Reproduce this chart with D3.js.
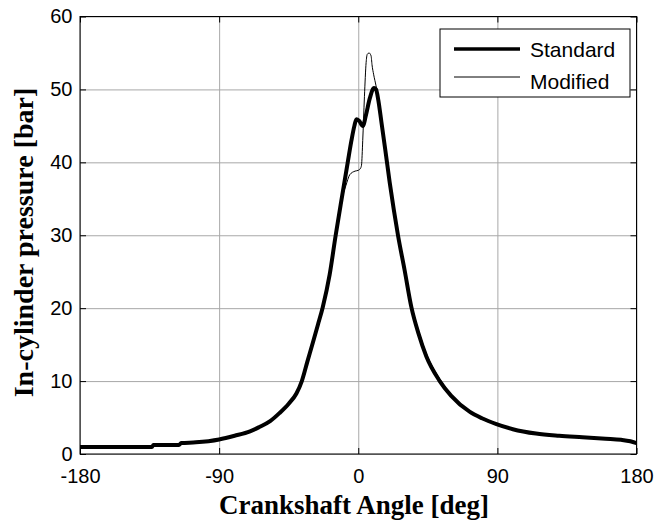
<!DOCTYPE html>
<html>
<head>
<meta charset="utf-8">
<script src="https://cdn.jsdelivr.net/npm/d3@7"></script>
<style>
  html, body { margin: 0; padding: 0; background: #fff; }
  svg { display: block; }
</style>
</head>
<body>
<svg id="chart" width="657" height="522"></svg>
<script>
// Crank angle (deg) and in-cylinder pressure (bar) for the two engine set-ups
const standardAngle = [-180, -160, -133.5, -132.5, -116, -114.5, -105, -90, -80, -70, -64, -57, -51, -45, -40, -36.5, -33, -29.2, -26, -23, -18.5, -14.6, -10.5, -6.8, -4.4, -2.5, -1.2, 0.5, 3, 5, 7.5, 10.2, 11.5, 13, 15, 17.5, 20.3, 23, 25.7, 30, 34.4, 39, 44, 52.7, 60, 72, 80, 89.4, 100, 115, 130, 145, 160, 170, 176, 180];
const standardPressure = [0.95, 0.95, 0.95, 1.25, 1.25, 1.5, 1.6, 2.0, 2.5, 3.1, 3.7, 4.5, 5.6, 6.9, 8.3, 10.0, 12.6, 15.4, 17.8, 20.1, 24.6, 30, 35.3, 40, 43, 45, 45.9, 45.7, 45, 46.5, 48.8, 50.2, 50.0, 48.5, 45.5, 41.7, 37.3, 33.5, 30, 25.2, 20.1, 16.5, 13.4, 10, 8.0, 5.8, 4.9, 4.1, 3.4, 2.8, 2.5, 2.3, 2.1, 1.95, 1.75, 1.5];

const modifiedAngle = [-180, -160, -133.5, -132.5, -116, -114.5, -105, -90, -80, -70, -64, -57, -51, -45, -40, -36.5, -33, -29.2, -26, -23, -18.5, -14.6, -10.5, -8, -5.5, -2, 0, 1.5, 2.1, 2.9, 4, 5.1, 5.8, 7, 8.3, 8.9, 10, 11.5, 13, 15, 17.5, 20.3, 23, 25.7, 30, 34.4, 39, 44, 52.7, 60, 72, 80, 89.4, 100, 115, 130, 145, 160, 170, 176, 180];
const modifiedPressure = [0.95, 0.95, 0.95, 1.25, 1.25, 1.5, 1.6, 2.0, 2.5, 3.1, 3.7, 4.5, 5.6, 6.9, 8.3, 10.0, 12.6, 15.4, 17.8, 20.1, 24.6, 30, 35.1, 36.8, 38.3, 38.8, 38.9, 39.2, 39.6, 43, 49, 53.7, 54.8, 55, 54.6, 53.4, 52, 50.5, 48.7, 45.8, 42.0, 37.6, 33.8, 30.3, 25.5, 20.5, 16.9, 13.8, 10.3, 8.2, 5.9, 4.9, 4.1, 3.4, 2.8, 2.5, 2.3, 2.1, 1.95, 1.75, 1.5];

const seriesNames = ["Standard", "Modified"];
const xTicks = [-180, -90, 0, 90, 180];
const yTicks = [0, 10, 20, 30, 40, 50, 60];

const svg = d3.select("#chart");
const plotL = 80, plotR = 636.5, plotT = 16.5, plotB = 454;
const W = plotR - plotL, H = plotB - plotT;

const x = d3.scaleLinear().domain([-180, 180]).range([plotL, plotR]);
const y = d3.scaleLinear().domain([0, 60]).range([plotB, plotT]);

const tickFont = "'Liberation Sans', Arial, sans-serif";
const titleFont = "'Liberation Serif', 'Times New Roman', serif";
const plainNumber = d => String(d);

// grid
svg.append("g")
  .attr("transform", `translate(0,${plotB})`)
  .call(d3.axisBottom(x).tickValues(xTicks).tickSize(-H).tickFormat(""))
  .call(g => g.select(".domain").remove())
  .call(g => g.selectAll("line").attr("stroke", "#a8a8a8").attr("stroke-width", 1));
svg.append("g")
  .attr("transform", `translate(${plotL},0)`)
  .call(d3.axisLeft(y).tickValues(yTicks).tickSize(-W).tickFormat(""))
  .call(g => g.select(".domain").remove())
  .call(g => g.selectAll("line").attr("stroke", "#a8a8a8").attr("stroke-width", 1));

// pressure traces
const lineGen = d3.line().x(d => x(d[0])).y(d => y(d[1])).curve(d3.curveMonotoneX);
const standard = d3.zip(standardAngle, standardPressure);
const modified = d3.zip(modifiedAngle, modifiedPressure);

svg.append("path").datum(standard)
  .attr("d", lineGen).attr("fill", "none").attr("stroke", "#000")
  .attr("stroke-width", 4).attr("stroke-linejoin", "round");
svg.append("path").datum(modified)
  .attr("d", lineGen).attr("fill", "none").attr("stroke", "#000")
  .attr("stroke-width", 1).attr("stroke-linejoin", "round");

// axes box with inward ticks on all four sides
const tick = 6;
const styleAxis = g => g.call(s => s.select(".domain").remove())
  .call(s => s.selectAll("line").attr("stroke", "#000"))
  .call(s => s.selectAll("text").attr("font-family", tickFont).attr("font-size", 20).attr("fill", "#000"));

svg.append("g").attr("transform", `translate(0,${plotB})`)
  .call(d3.axisBottom(x).tickValues(xTicks).tickFormat(plainNumber)
    .tickSizeInner(-tick).tickSizeOuter(0).tickPadding(15))
  .call(styleAxis);
svg.append("g").attr("transform", `translate(0,${plotT})`)
  .call(d3.axisTop(x).tickValues(xTicks).tickSizeInner(-tick).tickSizeOuter(0).tickFormat(""))
  .call(styleAxis);
svg.append("g").attr("transform", `translate(${plotL},0)`)
  .call(d3.axisLeft(y).tickValues(yTicks).tickFormat(plainNumber)
    .tickSizeInner(-tick).tickSizeOuter(0).tickPadding(7.5))
  .call(styleAxis);
svg.append("g").attr("transform", `translate(${plotR},0)`)
  .call(d3.axisRight(y).tickValues(yTicks).tickSizeInner(-tick).tickSizeOuter(0).tickFormat(""))
  .call(styleAxis);

svg.append("rect").attr("x", plotL).attr("y", plotT).attr("width", W).attr("height", H)
  .attr("fill", "none").attr("stroke", "#000").attr("stroke-width", 1);

// axis titles
svg.append("text").attr("x", 354).attr("y", 514)
  .attr("text-anchor", "middle").attr("font-family", titleFont)
  .attr("font-weight", "bold").attr("font-size", 27).attr("fill", "#000")
  .text("Crankshaft Angle [deg]");
svg.append("text").attr("transform", "translate(33,242.5) rotate(-90)")
  .attr("text-anchor", "middle").attr("font-family", titleFont)
  .attr("font-weight", "bold").attr("font-size", 28).attr("fill", "#000")
  .text("In-cylinder pressure [bar]");

// legend
const legend = svg.append("g");
legend.append("rect").attr("x", 440).attr("y", 29).attr("width", 190).attr("height", 68)
  .attr("fill", "#fff").attr("stroke", "#000").attr("stroke-width", 1);
const legendRows = [
  { name: seriesNames[0], width: 3.5, ly: 49, ty: 57 },
  { name: seriesNames[1], width: 1, ly: 77, ty: 89 }
];
legendRows.forEach(r => {
  legend.append("line").attr("x1", 454).attr("x2", 520).attr("y1", r.ly).attr("y2", r.ly)
    .attr("stroke", "#000").attr("stroke-width", r.width);
  legend.append("text").attr("x", 530).attr("y", r.ty)
    .attr("font-family", tickFont).attr("font-size", 21).attr("fill", "#000")
    .text(r.name);
});
</script>
</body>
</html>
